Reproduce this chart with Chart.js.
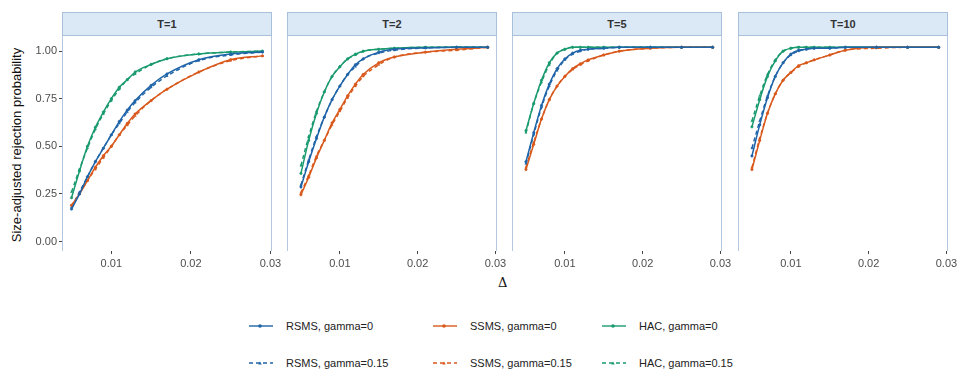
<!DOCTYPE html>
<html>
<head>
<meta charset="utf-8">
<script src="https://cdn.jsdelivr.net/npm/chart.js@4"></script>
<style>
  body { margin: 0; background: #fff; font-family: "Liberation Sans", Arial, sans-serif; }
  #wrap { position: relative; width: 958px; height: 377px; overflow: hidden; }
  canvas { position: absolute; }
  .strip { position: absolute; top: 12px; height: 24px; background: #dbe9f7; border: 1px solid #a9c0da;
           box-sizing: border-box; font-size: 11px; font-weight: bold; color: #333; text-align: center; line-height: 22px; }
  .frame { position: absolute; top: 36px; height: 215px; border-left: 1px solid #b3c7de; border-right: 1px solid #b3c7de;
           box-sizing: border-box; pointer-events: none; }
  #ytitle { position: absolute; left: 16px; top: 145px; transform: translate(-50%, -50%) rotate(-90deg);
            font-size: 13px; color: #111; white-space: nowrap; }
  #xtitle { position: absolute; left: 498px; top: 275px; font-size: 13px; color: #111; font-family: "DejaVu Serif", serif; }
  .leg { position: absolute; font-size: 11px; color: #222; display: flex; align-items: center; white-space: nowrap; }
  .leg svg { margin-right: 12px; }
</style>
</head>
<body>
<div id="wrap">
  <div id="ytitle">Size-adjusted rejection probability</div>
  <div id="xtitle">Δ</div>
</div>
<script>
const delta = [0.005, 0.006, 0.007, 0.008, 0.009, 0.010, 0.011, 0.012, 0.013, 0.015, 0.017, 0.021, 0.025, 0.029];
const panelLabels = ['T=1', 'T=2', 'T=5', 'T=10'];
const xTicks = [0.01, 0.02, 0.03];
const yTicks = [0, 0.25, 0.5, 0.75, 1];
const yTickLabels = ['0.00', '0.25', '0.50', '0.75', '1.00'];

// one row per panel (T=1, T=2, T=5, T=10)
const rsms0 = [
  [0.17, 0.25, 0.34, 0.42, 0.49, 0.56, 0.63, 0.69, 0.74, 0.82, 0.88, 0.955, 0.985, 0.995],
  [0.28, 0.41, 0.53, 0.64, 0.73, 0.80, 0.86, 0.91, 0.94, 0.975, 0.99, 0.997, 1.0, 1.0],
  [0.41, 0.56, 0.70, 0.81, 0.89, 0.94, 0.97, 0.985, 0.99, 0.995, 1.0, 1.0, 1.0, 1.0],
  [0.44, 0.60, 0.74, 0.85, 0.92, 0.965, 0.985, 0.99, 0.995, 0.995, 1.0, 1.0, 1.0, 1.0]
];
const ssms0 = [
  [0.19, 0.25, 0.32, 0.39, 0.45, 0.50, 0.56, 0.62, 0.67, 0.74, 0.80, 0.89, 0.955, 0.975],
  [0.24, 0.33, 0.43, 0.52, 0.61, 0.68, 0.75, 0.81, 0.86, 0.92, 0.95, 0.975, 0.99, 1.0],
  [0.37, 0.50, 0.63, 0.73, 0.80, 0.85, 0.89, 0.915, 0.935, 0.96, 0.98, 0.995, 1.0, 1.0],
  [0.37, 0.52, 0.66, 0.76, 0.83, 0.87, 0.905, 0.92, 0.935, 0.96, 0.985, 1.0, 1.0, 1.0]
];
const hac0 = [
  [0.23, 0.37, 0.50, 0.60, 0.68, 0.75, 0.81, 0.85, 0.89, 0.93, 0.96, 0.985, 0.995, 1.0],
  [0.35, 0.52, 0.66, 0.77, 0.85, 0.90, 0.94, 0.965, 0.98, 0.99, 0.995, 1.0, 1.0, 1.0],
  [0.57, 0.71, 0.83, 0.92, 0.97, 0.99, 1.0, 1.0, 1.0, 1.0, 1.0, 1.0, 1.0, 1.0],
  [0.59, 0.73, 0.85, 0.93, 0.98, 0.995, 1.0, 1.0, 1.0, 1.0, 1.0, 1.0, 1.0, 1.0]
];
const rsms15 = [
  [0.18, 0.26, 0.34, 0.42, 0.49, 0.56, 0.62, 0.68, 0.73, 0.81, 0.87, 0.95, 0.98, 0.995],
  [0.29, 0.42, 0.54, 0.64, 0.73, 0.80, 0.86, 0.90, 0.94, 0.97, 0.985, 0.997, 1.0, 1.0],
  [0.40, 0.55, 0.69, 0.80, 0.88, 0.935, 0.965, 0.98, 0.99, 0.995, 1.0, 1.0, 1.0, 1.0],
  [0.48, 0.62, 0.75, 0.85, 0.92, 0.96, 0.98, 0.99, 0.995, 0.995, 1.0, 1.0, 1.0, 1.0]
];
const ssms15 = [
  [0.19, 0.25, 0.32, 0.38, 0.44, 0.50, 0.56, 0.61, 0.66, 0.74, 0.80, 0.89, 0.95, 0.975],
  [0.25, 0.34, 0.44, 0.52, 0.60, 0.67, 0.74, 0.80, 0.85, 0.91, 0.95, 0.975, 0.985, 1.0],
  [0.38, 0.51, 0.63, 0.73, 0.80, 0.85, 0.885, 0.91, 0.93, 0.96, 0.98, 0.995, 1.0, 1.0],
  [0.38, 0.53, 0.66, 0.76, 0.83, 0.87, 0.90, 0.92, 0.935, 0.96, 0.985, 0.995, 1.0, 1.0]
];
const hac15 = [
  [0.26, 0.38, 0.49, 0.59, 0.67, 0.74, 0.80, 0.85, 0.88, 0.93, 0.96, 0.985, 0.995, 1.0],
  [0.39, 0.54, 0.67, 0.77, 0.85, 0.90, 0.94, 0.96, 0.98, 0.99, 0.995, 1.0, 1.0, 1.0],
  [0.56, 0.71, 0.82, 0.91, 0.97, 0.99, 1.0, 1.0, 1.0, 1.0, 1.0, 1.0, 1.0, 1.0],
  [0.62, 0.75, 0.86, 0.935, 0.98, 0.995, 1.0, 1.0, 1.0, 1.0, 1.0, 1.0, 1.0, 1.0]
];

const BLUE = '#1f64a8', ORANGE = '#d9591c', GREEN = '#1a9a6f';
const series = [
  { label: 'RSMS, gamma=0', data: rsms0, color: BLUE, dash: [], point: 'circle' },
  { label: 'SSMS, gamma=0', data: ssms0, color: ORANGE, dash: [], point: 'circle' },
  { label: 'HAC, gamma=0', data: hac0, color: GREEN, dash: [], point: 'circle' },
  { label: 'RSMS, gamma=0.15', data: rsms15, color: BLUE, dash: [4, 3], point: 'triangle' },
  { label: 'SSMS, gamma=0.15', data: ssms15, color: ORANGE, dash: [4, 3], point: 'triangle' },
  { label: 'HAC, gamma=0.15', data: hac15, color: GREEN, dash: [4, 3], point: 'triangle' }
];

const plotLefts = [62, 287, 512, 738];
const plotW = 210;
const wrap = document.getElementById('wrap');

panelLabels.forEach((lab, p) => {
  const strip = document.createElement('div');
  strip.className = 'strip';
  strip.style.left = plotLefts[p] + 'px';
  strip.style.width = plotW + 'px';
  strip.textContent = lab;
  wrap.appendChild(strip);

  const yAxisW = p === 0 ? 40 : 0;
  const canvas = document.createElement('canvas');
  const cw = yAxisW + plotW + 20, ch = 244;
  canvas.width = cw; canvas.height = ch;
  canvas.style.left = (plotLefts[p] - yAxisW) + 'px';
  canvas.style.top = '33px';
  canvas.style.width = cw + 'px'; canvas.style.height = ch + 'px';
  wrap.appendChild(canvas);

  const frame = document.createElement('div');
  frame.className = 'frame';
  frame.style.left = plotLefts[p] + 'px';
  frame.style.width = plotW + 'px';
  wrap.appendChild(frame);

  new Chart(canvas.getContext('2d'), {
    type: 'line',
    data: {
      datasets: series.map(s => ({
        label: s.label,
        data: delta.map((d, i) => ({ x: d, y: s.data[p][i] })),
        borderColor: s.color,
        backgroundColor: s.color,
        borderWidth: 1.5,
        borderDash: s.dash,
        pointStyle: s.point,
        pointRadius: 1.2,
        pointBorderWidth: 0.6,
        cubicInterpolationMode: 'monotone'
      }))
    },
    options: {
      responsive: false,
      devicePixelRatio: 1,
      animation: false,
      layout: { padding: { top: 0, right: 20, left: 0, bottom: 0 } },
      plugins: { legend: { display: false }, tooltip: { enabled: false } },
      scales: {
        x: {
          type: 'linear', min: 0.0038, max: 0.0302,
          afterBuildTicks: sc => { sc.ticks = xTicks.map(v => ({ value: v })); },
          afterFit: sc => { sc.height = 26; },
          border: { display: false },
          grid: { drawOnChartArea: false, drawTicks: true, tickLength: 3, color: '#444' },
          ticks: { color: '#4d4d4d', font: { size: 11, family: 'Liberation Sans' }, padding: 3,
                   maxRotation: 0, callback: v => v.toFixed(2) }
        },
        y: {
          display: p === 0,
          min: -0.05, max: 1.05,
          afterBuildTicks: sc => { sc.ticks = yTicks.map(v => ({ value: v })); },
          afterFit: sc => { sc.width = yAxisW; },
          border: { display: false },
          grid: { drawOnChartArea: false, drawTicks: true, tickLength: 3, color: '#444' },
          ticks: { color: '#4d4d4d', font: { size: 11, family: 'Liberation Sans' }, padding: 2,
                   callback: v => yTickLabels[yTicks.indexOf(v)] }
        }
      }
    }
  });
});

// legend
const legCols = [248, 432, 601];
const legRows = [326, 363];
series.forEach((s, i) => {
  const col = i % 3, row = Math.floor(i / 3);
  const el = document.createElement('div');
  el.className = 'leg';
  el.style.left = legCols[col] + 'px';
  el.style.top = (legRows[row] - 7) + 'px';
  const dash = s.dash.length ? 'stroke-dasharray="4,3"' : '';
  const mark = s.point === 'circle'
    ? `<circle cx="12" cy="7" r="1.8" fill="${s.color}"/>`
    : `<path d="M10.2,8.4 L13.8,8.4 L12,5.4 Z" fill="${s.color}"/>`;
  el.innerHTML = `<svg width="26" height="14"><line x1="1" y1="7" x2="25" y2="7" stroke="${s.color}" stroke-width="1.4" ${dash}/>${mark}</svg><span>${s.label}</span>`;
  wrap.appendChild(el);
});
</script>
</body>
</html>
